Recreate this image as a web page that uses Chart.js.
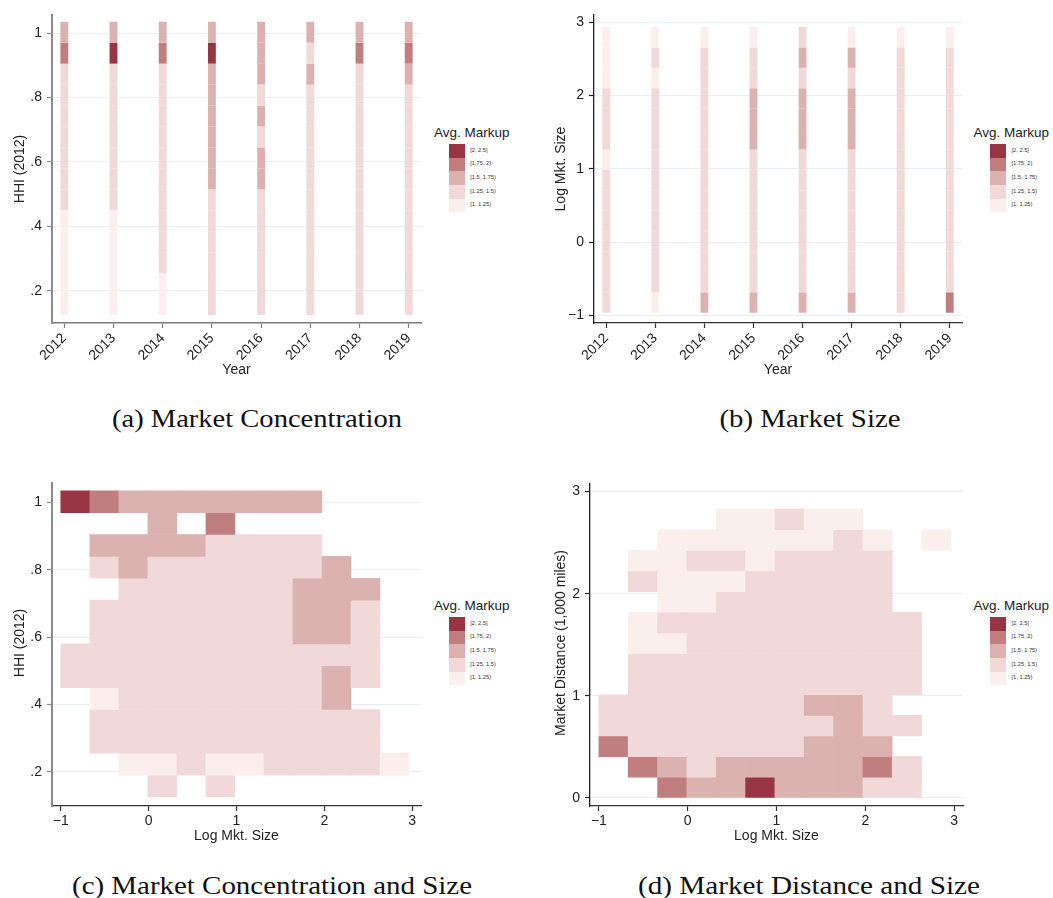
<!DOCTYPE html>
<html><head><meta charset="utf-8">
<script src="https://cdn.jsdelivr.net/npm/chart.js@4.4.1/dist/chart.umd.min.js"></script>
<style>
body{margin:0;background:#fff;width:1053px;height:898px;position:relative;overflow:hidden;font-family:"Liberation Sans",Arial,sans-serif;color:#222}
canvas{position:absolute}
.t{position:absolute;white-space:nowrap;font-size:14px;line-height:1;transform:translate(-50%,-50%)}
.rot{transform:translate(-50%,-50%) rotate(-90deg)}
.cap{position:absolute;white-space:nowrap;font-family:"Liberation Serif",serif;font-size:25px;line-height:1;color:#111}
.lgt{position:absolute;white-space:nowrap;font-size:13.5px;line-height:1;transform:translateY(-50%)}
.sw{position:absolute;width:16.3px;height:13.7px}
.sl{position:absolute;white-space:nowrap;font-size:5.7px;line-height:1;transform:translateY(-50%);color:#333}
</style></head><body>
<canvas id="ca" width="430" height="390" style="left:0;top:0"></canvas>
<canvas id="cb" width="430" height="390" style="left:540px;top:0"></canvas>
<canvas id="cc" width="430" height="380" style="left:0;top:470px"></canvas>
<canvas id="cd" width="430" height="380" style="left:540px;top:470px"></canvas>
<div id="txt"></div>
<script>
// ---------- data ----------
const markupClasses = ['[1, 1.25)', '[1.25, 1.5)', '[1.5, 1.75)', '[1.75, 2)', '[2, 2.5]'];
const years = [2012, 2013, 2014, 2015, 2016, 2017, 2018, 2019];
const hhiEdges = [0.125, 0.19, 0.255, 0.32, 0.385, 0.45, 0.515, 0.58, 0.645, 0.71, 0.775, 0.84, 0.905, 0.97, 1.035];
const sizeEdgesY = [-0.965, -0.686, -0.408, -0.129, 0.149, 0.428, 0.707, 0.985, 1.264, 1.543, 1.821, 2.1, 2.379, 2.657, 2.936];
const sizeEdgesX = [-1, -0.67, -0.339, -0.009, 0.321, 0.652, 0.982, 1.312, 1.642, 1.973, 2.303, 2.633, 2.964];
const distEdges = [0, 0.202, 0.404, 0.606, 0.808, 1.01, 1.212, 1.414, 1.616, 1.818, 2.02, 2.222, 2.424, 2.626, 2.828];

// markup class per bin (1..5, 0 = no data), bins listed bottom -> top
const concByYear = [
  [1,1,1,1,1,2,2,2,2,2,2,2,4,3],
  [1,1,1,1,1,2,2,2,2,2,2,2,5,3],
  [1,1,2,2,2,2,2,2,2,2,2,2,4,3],
  [2,2,2,2,2,2,3,3,3,3,3,3,5,3],
  [2,2,2,2,2,2,3,3,2,3,2,3,3,3],
  [2,2,2,2,2,2,2,2,2,2,2,3,2,3],
  [2,2,2,2,2,2,2,2,2,2,2,2,4,3],
  [2,2,2,2,2,2,2,2,2,2,2,3,4,3]
];
const sizeByYear = [
  [2,2,2,2,2,2,2,1,2,2,2,1,1,1],
  [1,2,2,2,2,2,2,2,2,2,2,1,2,1],
  [3,2,2,2,2,2,2,2,2,2,2,2,2,1],
  [3,2,2,2,2,2,2,2,3,3,3,2,2,1],
  [3,2,2,2,2,2,2,2,3,3,3,2,3,2],
  [3,2,2,2,2,2,2,2,3,3,3,2,3,1],
  [2,2,2,2,2,2,2,2,2,2,2,2,2,1],
  [4,2,2,2,2,2,2,2,2,2,2,2,2,1]
];
// rows bottom -> top, columns left -> right (log market size bins)
const concBySize = [
  [0,0,0,2,0,2,0,0,0,0,0,0],
  [0,0,1,1,2,1,1,2,2,2,2,1],
  [0,2,2,2,2,2,2,2,2,2,2,0],
  [0,2,2,2,2,2,2,2,2,2,2,0],
  [0,1,2,2,2,2,2,2,2,3,0,0],
  [2,2,2,2,2,2,2,2,2,3,2,0],
  [2,2,2,2,2,2,2,2,2,2,2,0],
  [0,2,2,2,2,2,2,2,3,3,2,0],
  [0,2,2,2,2,2,2,2,3,3,2,0],
  [0,0,2,2,2,2,2,2,3,3,3,0],
  [0,2,3,2,2,2,2,2,2,3,0,0],
  [0,3,3,3,3,2,2,2,2,0,0,0],
  [0,0,0,3,0,4,0,0,0,0,0,0],
  [5,4,3,3,3,3,3,3,3,0,0,0]
];
const distBySize = [
  [0,0,4,3,3,5,3,3,3,2,2,0],
  [0,4,3,2,3,3,3,3,3,4,2,0],
  [4,2,2,2,2,2,2,3,3,3,0,0],
  [2,2,2,2,2,2,2,2,3,2,2,0],
  [2,2,2,2,2,2,2,3,3,2,0,0],
  [0,2,2,2,2,2,2,2,2,2,2,0],
  [0,2,2,2,2,2,2,2,2,2,2,0],
  [0,1,1,2,2,2,2,2,2,2,2,0],
  [0,1,2,2,2,2,2,2,2,2,2,0],
  [0,0,1,1,2,2,2,2,2,2,0,0],
  [0,2,1,1,1,2,2,2,2,2,0,0],
  [0,1,1,2,2,1,2,2,2,2,0,0],
  [0,0,1,1,1,1,1,1,2,1,0,1],
  [0,0,0,0,1,1,2,1,1,0,0,0]
];
const hhiTicks = [0.2, 0.4, 0.6, 0.8, 1];
const sizeTicks = [-1, 0, 1, 2, 3];
const distTicks = [0, 1, 2, 3];

// ---------- styles ----------
const markupColors = ['#fbefee', '#f1d9d9', '#dcb2b1', '#c07f7e', '#983443'];
const FONT = '"Liberation Sans", Arial, sans-serif';

function yearBars(levels, edges) {
  const out = [];
  years.forEach((yr, i) => levels[i].forEach((v, j) => {
    if (v) out.push({x: yr, y: [edges[j], edges[j + 1]], v});
  }));
  return out;
}
function gridBars(rows, xEdges, yEdges) {
  const out = [];
  rows.forEach((row, j) => row.forEach((v, i) => {
    if (v) out.push({x: (xEdges[i] + xEdges[i + 1]) / 2, y: [yEdges[j], yEdges[j + 1]], v});
  }));
  return out;
}
const fmtHHI = v => v === 1 ? '1' : '.' + Math.round(v * 10);
const fmtNum = v => v < 0 ? '\u2212' + Math.abs(v) : String(v);
const fmtYear = v => String(v);

function makeChart(id, c) {
  return new Chart(document.getElementById(id), {
    type: 'bar',
    data: {datasets: [{
      data: c.bars,
      backgroundColor: ctx => markupColors[ctx.raw.v - 1],
      borderWidth: 0,
      barPercentage: c.barPct,
      categoryPercentage: 1,
      grouped: false
    }]},
    options: {
      responsive: false, animation: false, events: [],
      layout: {padding: c.pad},
      plugins: {legend: {display: false}, tooltip: {enabled: false}},
      scales: {
        x: {
          type: 'linear', offset: false, min: c.xMin, max: c.xMax,
          afterBuildTicks: s => { s.ticks = c.xTicks.map(v => ({value: v})); },
          afterFit: s => { s.height = c.xH; },
          grid: {display: true, drawOnChartArea: false, drawTicks: true, tickLength: 5, tickColor: c.xCol, tickWidth: 1.2, offset: false},
          border: {display: true, color: c.xCol, width: c.xW},
          ticks: {autoSkip: false, maxRotation: c.rot, minRotation: c.rot, padding: c.xPad, color: '#222',
                  font: {family: FONT, size: 14}, callback: c.xFmt}
        },
        y: {
          type: 'linear', min: c.yMin, max: c.yMax,
          afterBuildTicks: s => { s.ticks = c.yTicks.map(v => ({value: v})); },
          afterFit: s => { s.width = c.yW; },
          grid: {color: '#e7f0f1', lineWidth: 1, drawTicks: true, tickLength: 5, tickColor: c.yCol, tickWidth: 1.2},
          border: {display: true, color: c.yCol, width: c.yWd},
          ticks: {autoSkip: false, padding: 5, color: '#222', font: {family: FONT, size: 14}, callback: c.yFmt}
        }
      }
    }
  });
}

makeChart('ca', {bars: yearBars(concByYear, hhiEdges), barPct: 0.16,
  xMin: 2011.75, xMax: 2019.25, xTicks: years, xFmt: fmtYear, rot: 45, xPad: 2, xH: 50,
  yMin: 0.1, yMax: 1.056, yTicks: hhiTicks, yFmt: fmtHHI, yW: 52,
  pad: {left: 0, top: 15, right: 9, bottom: 17}, xCol: '#7a7a7a', xW: 1.6, yCol: '#8a8a8a', yWd: 2});
makeChart('cb', {bars: yearBars(sizeByYear, sizeEdgesY), barPct: 0.16,
  xMin: 2011.75, xMax: 2019.25, xTicks: years, xFmt: fmtYear, rot: 45, xPad: 2, xH: 50,
  yMin: -1.105, yMax: 3.1, yTicks: sizeTicks, yFmt: fmtNum, yW: 54,
  pad: {left: 0, top: 15, right: 8, bottom: 17}, xCol: '#333', xW: 1.3, yCol: '#222', yWd: 1.3});
makeChart('cc', {bars: gridBars(concBySize, sizeEdgesX, hhiEdges), barPct: 1,
  xMin: -1.1, xMax: 3.1, xTicks: sizeTicks, xFmt: fmtNum, rot: 0, xPad: 2, xH: 30,
  yMin: 0.098, yMax: 1.057, yTicks: hhiTicks, yFmt: fmtHHI, yW: 52,
  pad: {left: 0, top: 10, right: 9, bottom: 14}, xCol: '#333', xW: 1.3, yCol: '#8a8a8a', yWd: 2});
makeChart('cd', {bars: gridBars(distBySize, sizeEdgesX, distEdges), barPct: 1,
  xMin: -1.1, xMax: 3.1, xTicks: sizeTicks, xFmt: fmtNum, rot: 0, xPad: 2, xH: 30,
  yMin: -0.08, yMax: 3.08, yTicks: distTicks, yFmt: fmtNum, yW: 50,
  pad: {left: 0, top: 10, right: 7, bottom: 14}, xCol: '#333', xW: 1.3, yCol: '#222', yWd: 1.3});

// ---------- texts ----------
const host = document.getElementById('txt');
function add(cls, text, x, y, extra) {
  const d = document.createElement('div');
  d.className = cls; d.textContent = text;
  d.style.left = x + 'px'; d.style.top = y + 'px';
  if (extra) Object.assign(d.style, extra);
  host.appendChild(d); return d;
}
add('t rot', 'HHI (2012)', 18.5, 169);
add('t', 'Year', 236.5, 369);
add('t rot', 'Log Mkt. Size', 559.5, 169);
add('t', 'Year', 778, 369);
add('t rot', 'HHI (2012)', 18.5, 643);
add('t', 'Log Mkt. Size', 236.5, 835);
add('t rot', 'Market Distance (1,000 miles)', 559.8, 643);
add('t', 'Log Mkt. Size', 776.5, 835);

function legend(tx, sx, ty, sy) {
  add('lgt', 'Avg. Markup', tx, ty);
  for (let k = 0; k < 5; k++) {
    const lvl = 4 - k;
    add('sw', '', sx, sy + k * 13.66, {background: markupColors[lvl]});
    add('sl', markupClasses[lvl], sx + 21.5, sy + k * 13.66 + 6.8);
  }
}
legend(434, 448.7, 133.3, 144);
legend(973.5, 990, 133.3, 144);
legend(434, 448.7, 606, 617);
legend(973.5, 990, 606, 617);

const mc = document.createElement('canvas').getContext('2d');
function caption(text, cx, cy, targetW) {
  mc.font = '25px "Liberation Serif"';
  const w = mc.measureText(text).width;
  const sx = targetW / w;
  add('cap', text, cx, cy, {transform: 'translate(-50%,-50%) scaleX(' + sx.toFixed(4) + ')'});
}
caption('(a) Market Concentration', 256.7, 418, 290);
caption('(b) Market Size', 810, 418, 181);
caption('(c) Market Concentration and Size', 271.7, 885, 400);
caption('(d) Market Distance and Size', 809, 885, 342);
</script>
</body></html>
